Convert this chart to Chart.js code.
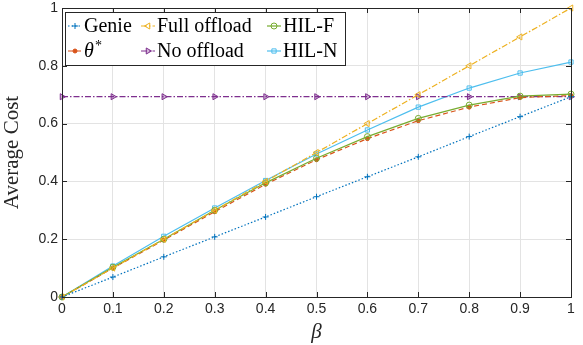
<!DOCTYPE html>
<html>
<head>
<meta charset="utf-8">
<script src="https://cdn.jsdelivr.net/npm/chart.js@4"></script>
<style>
  html, body { margin: 0; padding: 0; background: #fff; }
  #wrap { width: 583px; height: 345px; }
</style>
</head>
<body>
<div id="wrap"><canvas id="cost-chart" width="583" height="345"></canvas></div>
<script>
const betas = [0, 0.1, 0.2, 0.3, 0.4, 0.5, 0.6, 0.7, 0.8, 0.9, 1];
const genie = [0, 0.069, 0.139, 0.208, 0.277, 0.347, 0.416, 0.485, 0.555, 0.624, 0.693];
const fullOffload = [0, 0.1, 0.2, 0.3, 0.4, 0.5, 0.6, 0.7, 0.8, 0.9, 1.0];
const thetaStar = [0, 0.1, 0.197, 0.295, 0.39, 0.475, 0.548, 0.61, 0.657, 0.69, 0.697];
const noOffload = [0.693, 0.693, 0.693, 0.693, 0.693, 0.693, 0.693, 0.693, 0.693, 0.693, 0.693];
const hilF = [0, 0.103, 0.2, 0.3, 0.395, 0.48, 0.555, 0.618, 0.664, 0.695, 0.702];
const hilN = [0, 0.107, 0.21, 0.308, 0.403, 0.495, 0.578, 0.657, 0.723, 0.775, 0.813];
const yTicks = [0, 0.2, 0.4, 0.6, 0.8, 1];

function pts(values) {
    return values.map((v, i) => ({ x: betas[i], y: v }));
}

function series(label, values, color, opts) {
    return Object.assign({
        label: label,
        data: pts(values),
        borderColor: color,
        backgroundColor: color,
        pointBorderColor: color,
        pointBackgroundColor: 'rgba(255,255,255,0)',
        borderWidth: 1.2,
        pointRadius: 3,
        pointBorderWidth: 1,
        tension: 0,
        clip: false,
        fill: false
    }, opts);
}

// legend order follows MATLAB's row-wise 3 column layout
const datasets = [
    series('Genie', genie, '#0072BD', { borderDash: [1.5, 2], pointStyle: 'cross', pointRadius: 3 }),
    series('Full offload', fullOffload, '#EDB120', { borderDash: [6, 2, 1.5, 2], pointStyle: 'triangle', pointRotation: -90, pointRadius: 3.5 }),
    series('HIL-F', hilF, '#77AC30', { pointStyle: 'circle', pointRadius: 3 }),
    series('θ*', thetaStar, '#D95319', { borderDash: [5, 3], pointStyle: 'circle', pointRadius: 2, pointBackgroundColor: '#D95319' }),
    series('No offload', noOffload, '#7E2F8E', { borderDash: [6, 2, 1.5, 2], pointStyle: 'triangle', pointRotation: 90, pointRadius: 3.5, pointBackgroundColor: 'rgba(126,47,142,0.35)' }),
    series('HIL-N', hilN, '#4DBEEE', { pointStyle: 'rect', pointRadius: 3 })
];

// box, inward ticks and the MATLAB style legend
const matlabBox = {
    id: 'matlabBox',
    afterDraw(chart) {
        const ctx = chart.ctx;
        const a = chart.chartArea;
        const xs = chart.scales.x, ys = chart.scales.y;
        ctx.save();
        ctx.strokeStyle = '#262626';
        ctx.lineWidth = 1;
        ctx.strokeRect(a.left + 0.5, a.top + 0.5, a.right - a.left, a.bottom - a.top);
        ctx.beginPath();
        betas.forEach(b => {
            const px = Math.round(xs.getPixelForValue(b)) + 0.5;
            ctx.moveTo(px, a.bottom); ctx.lineTo(px, a.bottom - 5);
            ctx.moveTo(px, a.top); ctx.lineTo(px, a.top + 5);
        });
        yTicks.forEach(t => {
            const py = Math.round(ys.getPixelForValue(t)) + 0.5;
            ctx.moveTo(a.left, py); ctx.lineTo(a.left + 5, py);
            ctx.moveTo(a.right, py); ctx.lineTo(a.right - 5, py);
        });
        ctx.stroke();

        // legend
        const lx = 65, ly = 12, lw = 280, lh = 53;
        const colX = [68, 141, 267];
        const rowY = [26, 51];
        ctx.fillStyle = '#fff';
        ctx.fillRect(lx, ly, lw, lh);
        ctx.strokeRect(lx + 0.5, ly + 0.5, lw, lh);
        ctx.font = '20px "Liberation Serif", serif';
        ctx.textBaseline = 'middle';
        chart.data.datasets.forEach((ds, i) => {
            const cx = colX[i % 3], cy = rowY[Math.floor(i / 3)];
            ctx.strokeStyle = ds.borderColor;
            ctx.lineWidth = 1.2;
            ctx.setLineDash(ds.borderDash || []);
            ctx.beginPath();
            ctx.moveTo(cx, cy); ctx.lineTo(cx + 14, cy);
            ctx.stroke();
            ctx.setLineDash([]);
            ctx.fillStyle = ds.pointBackgroundColor;
            ctx.strokeStyle = ds.pointBorderColor;
            ctx.lineWidth = 1;
            Chart.helpers.drawPoint(ctx, {
                pointStyle: ds.pointStyle,
                radius: ds.pointRadius,
                rotation: ds.pointRotation || 0,
                borderWidth: 1
            }, cx + 7, cy);
            ctx.fillStyle = '#000';
            if (ds.label === 'θ*') {
                ctx.font = 'italic 20px "Liberation Serif", serif';
                ctx.fillText('θ', cx + 16, cy + 1);
                ctx.font = '14px "Liberation Serif", serif';
                ctx.fillText('*', cx + 27, cy - 5);
                ctx.font = '20px "Liberation Serif", serif';
            } else {
                ctx.fillText(ds.label, cx + 16, cy + 1);
            }
        });
        ctx.restore();
    }
};

const ctx = document.getElementById('cost-chart').getContext('2d');
new Chart(ctx, {
    type: 'line',
    data: { datasets: datasets },
    options: {
        responsive: false,
        animation: false,
        layout: { padding: { top: 8, right: 12, left: 0, bottom: 0 } },
        plugins: {
            legend: { display: false },
            tooltip: { enabled: false }
        },
        scales: {
            x: {
                type: 'linear',
                min: 0,
                max: 1,
                afterFit(scale) { scale.height = 48; scale.paddingLeft = 0; scale.paddingRight = 0; },
                afterBuildTicks(scale) { scale.ticks = betas.map(v => ({ value: v })); },
                ticks: {
                    color: '#262626',
                    padding: 4,
                    maxRotation: 0,
                    font: { family: '"Liberation Sans", Arial, sans-serif', size: 14 },
                    callback: v => String(Math.round(v * 10) / 10)
                },
                grid: { color: '#e3e3e3', drawTicks: false },
                border: { display: false },
                title: {
                    display: true,
                    text: 'β',
                    color: '#262626',
                    padding: { top: 0, bottom: 0 },
                    font: { family: '"Liberation Serif", serif', size: 21, style: 'italic' }
                }
            },
            y: {
                type: 'linear',
                min: 0,
                max: 1,
                afterFit(scale) { scale.width = 62; scale.paddingTop = 0; scale.paddingBottom = 0; },
                afterBuildTicks(scale) { scale.ticks = yTicks.map(v => ({ value: v })); },
                ticks: {
                    color: '#262626',
                    padding: 4,
                    font: { family: '"Liberation Sans", Arial, sans-serif', size: 14 },
                    callback: v => String(Math.round(v * 10) / 10)
                },
                grid: { color: '#e3e3e3', drawTicks: false },
                border: { display: false },
                title: {
                    display: true,
                    text: 'Average Cost',
                    color: '#262626',
                    padding: { top: 0, bottom: 6 },
                    font: { family: '"Liberation Serif", serif', size: 21 }
                }
            }
        }
    },
    plugins: [matlabBox]
});
</script>
</body>
</html>
